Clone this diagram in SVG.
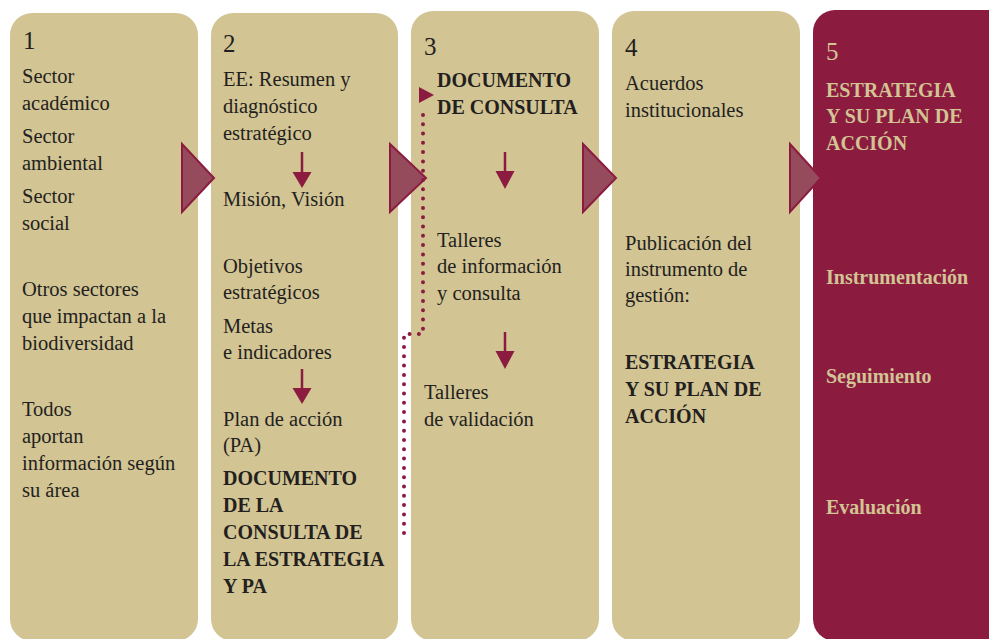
<svg xmlns="http://www.w3.org/2000/svg" width="989" height="639" viewBox="0 0 989 639">
<defs>
<style>
.panel{fill:#D2C493}
.panel5{fill:#8B1C40}
text{font-family:'Liberation Serif','DejaVu Serif',serif}
.t{font-size:20.5px;fill:#231F20}
.b{font-size:20px;font-weight:bold;fill:#231F20}
.n{font-size:25px;fill:#231F20}
.lb{font-size:20px;font-weight:bold;fill:#D2C493}
.ln{font-size:25px;fill:#D2C493}
.tri{fill:#964B5D;stroke:#8B1C40;stroke-width:2;stroke-linejoin:miter}
.arr{stroke:#8B1C40;stroke-width:2.5;fill:none}
.head{fill:#8B1C40}
.dot{stroke:#8B1C40;stroke-width:4;stroke-linecap:round;stroke-dasharray:0 9.3;fill:none}
</style>
</defs>

<g id="panel1">
<rect class="panel" x="10" y="13" width="188" height="628" rx="22"/>
<text class="n" x="23" y="49">1</text>
<text class="t" x="22" y="83">Sector</text>
<text class="t" x="22" y="110">académico</text>
<text class="t" x="22" y="143">Sector</text>
<text class="t" x="22" y="170">ambiental</text>
<text class="t" x="22" y="203">Sector</text>
<text class="t" x="22" y="230">social</text>
<text class="t" x="22" y="296">Otros sectores</text>
<text class="t" x="22" y="323">que impactan a la</text>
<text class="t" x="22" y="350">biodiversidad</text>
<text class="t" x="22" y="416">Todos</text>
<text class="t" x="22" y="443">aportan</text>
<text class="t" x="22" y="470">información según</text>
<text class="t" x="22" y="497">su área</text>
</g>

<g id="panel2">
<rect class="panel" x="211" y="13" width="187" height="628" rx="22"/>
<text class="n" x="223" y="52">2</text>
<text class="t" x="223" y="86">EE: Resumen y</text>
<text class="t" x="223" y="113">diagnóstico</text>
<text class="t" x="223" y="140">estratégico</text>
<text class="t" x="223" y="206">Misión, Visión</text>
<text class="t" x="223" y="273">Objetivos</text>
<text class="t" x="223" y="299">estratégicos</text>
<text class="t" x="223" y="333">Metas</text>
<text class="t" x="223" y="359">e indicadores</text>
<text class="t" x="223" y="426">Plan de acción</text>
<text class="t" x="223" y="452">(PA)</text>
<text class="b" x="223" y="485">DOCUMENTO</text>
<text class="b" x="223" y="512">DE LA</text>
<text class="b" x="223" y="539">CONSULTA DE</text>
<text class="b" x="223" y="566">LA ESTRATEGIA</text>
<text class="b" x="223" y="593">Y PA</text>
</g>

<g id="panel3">
<rect class="panel" x="411" y="11" width="188" height="630" rx="22"/>
<text class="n" x="424" y="55">3</text>
<text class="b" x="437" y="87">DOCUMENTO</text>
<text class="b" x="437" y="114">DE CONSULTA</text>
<text class="t" x="437" y="247">Talleres</text>
<text class="t" x="437" y="273">de información</text>
<text class="t" x="437" y="300">y consulta</text>
<text class="t" x="424" y="399">Talleres</text>
<text class="t" x="424" y="426">de validación</text>
</g>

<g id="panel4">
<rect class="panel" x="612" y="11" width="188" height="630" rx="22"/>
<text class="n" x="625" y="56">4</text>
<text class="t" x="625" y="90">Acuerdos</text>
<text class="t" x="625" y="117">institucionales</text>
<text class="t" x="625" y="250">Publicación del</text>
<text class="t" x="625" y="276">instrumento de</text>
<text class="t" x="625" y="302">gestión:</text>
<text class="b" x="625" y="369">ESTRATEGIA</text>
<text class="b" x="625" y="396">Y SU PLAN DE</text>
<text class="b" x="625" y="423">ACCIÓN</text>
</g>

<g id="panel5">
<rect class="panel5" x="813" y="10" width="200" height="631" rx="22"/>
<text class="ln" x="826" y="60">5</text>
<text class="lb" x="826" y="97">ESTRATEGIA</text>
<text class="lb" x="826" y="123">Y SU PLAN DE</text>
<text class="lb" x="826" y="150">ACCIÓN</text>
<text class="lb" x="826" y="284">Instrumentación</text>
<text class="lb" x="826" y="383">Seguimiento</text>
<text class="lb" x="826" y="514">Evaluación</text>
</g>

<g id="connectors">
<polygon class="tri" points="182,144 214,178 182,212"/>
<polygon class="tri" points="390,144 426,178 390,212"/>
<polygon class="tri" points="583,144 616,178 583,212"/>
<polygon class="tri" points="790,144 821,178 790,212"/>
<line class="arr" x1="302" y1="152" x2="302" y2="174"/>
<polygon class="head" points="292.5,172 311.5,172 302,188"/>
<line class="arr" x1="302" y1="369" x2="302" y2="390"/>
<polygon class="head" points="292.5,388 311.5,388 302,404"/>
<line class="arr" x1="505" y1="152" x2="505" y2="173"/>
<polygon class="head" points="495.5,171 514.5,171 505,189"/>
<line class="arr" x1="505" y1="332" x2="505" y2="353"/>
<polygon class="head" points="495.5,351 514.5,351 505,369"/>
<path class="dot" d="M404,533 L404,334 L423,334 L423,106"/>
<polygon points="419,87 434,95 419,103" fill="#8B1C40"/>
</g>
</svg>
